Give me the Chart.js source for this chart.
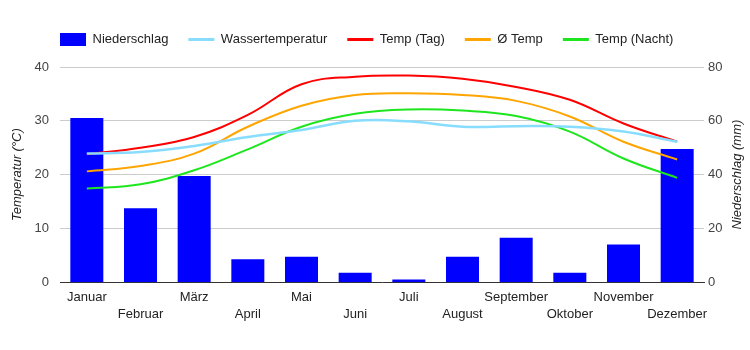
<!DOCTYPE html>
<html>
<head>
<meta charset="utf-8">
<script src="https://cdn.jsdelivr.net/npm/chart.js@4/dist/chart.umd.min.js"></script>
<style>
  html, body { margin: 0; padding: 0; background: #fff; }
  #wrap { width: 750px; height: 350px; }
</style>
</head>
<body>
<div id="wrap"><canvas id="klima"></canvas></div>
<script>
const months = ['Januar', 'Februar', 'März', 'April', 'Mai', 'Juni', 'Juli', 'August', 'September', 'Oktober', 'November', 'Dezember'];
const niederschlag = [61, 27.5, 39.5, 8.5, 9.5, 3.5, 1, 9.5, 16.5, 3.5, 14, 49.5];       // mm
const wassertemp = [23.9, 24.2, 25.3, 27.0, 28.3, 30.0, 29.9, 28.9, 29.0, 28.9, 28.0, 26.1];
const tempTag = [23.8, 25.0, 27.0, 31.1, 36.8, 38.2, 38.4, 37.8, 36.3, 33.9, 29.5, 26.1];
const tempMittel = [20.6, 21.6, 23.9, 28.9, 32.8, 34.8, 35.1, 34.8, 33.7, 30.8, 26.1, 22.8];
const tempNacht = [17.4, 18.2, 20.8, 24.7, 28.9, 31.3, 32.1, 31.9, 30.9, 28.0, 23.0, 19.4];
const tempTicks = [0, 10, 20, 30, 40];
const rainTicks = [0, 20, 40, 60, 80];

const FONT = 'Arial, "Liberation Sans", sans-serif';

// move the legend row to where it sits in the original (left aligned over the plot)
const legendPlace = {
  id: 'legendPlace',
  afterLayout(chart) {
    const lg = chart.legend;
    if (!lg) return;
    lg.left = 40;
    lg.top -= 11;
    lg.bottom -= 11;
  }
};

// axis titles: right one reads bottom-up like the left one
const axisTitles = {
  id: 'axisTitles',
  afterDraw(chart) {
    const ctx = chart.ctx;
    const a = chart.chartArea;
    const cy = (a.top + a.bottom) / 2;
    ctx.save();
    ctx.font = 'italic 13px ' + FONT;
    ctx.fillStyle = '#222';
    ctx.textAlign = 'center';
    ctx.textBaseline = 'middle';
    [[17, 'Temperatur (°C)'], [737, 'Niederschlag (mm)']].forEach(([x, txt]) => {
      ctx.save();
      ctx.translate(x, cy);
      ctx.rotate(-Math.PI / 2);
      ctx.fillText(txt, 0, 0);
      ctx.restore();
    });
    ctx.restore();
  }
};

const line = (label, data, color, width) => ({
  type: 'line',
  label: label,
  data: data,
  yAxisID: 'y',
  borderColor: color,
  backgroundColor: color,
  borderWidth: width,
  pointRadius: 0,
  pointHoverRadius: 0,
  tension: 0.4,
  fill: false,
  order: 0
});

new Chart(document.getElementById('klima'), {
  data: {
    labels: months,
    datasets: [
      {
        type: 'bar',
        label: 'Niederschlag',
        data: niederschlag,
        yAxisID: 'y1',
        backgroundColor: '#0000ff',
        borderWidth: 0,
        categoryPercentage: 1,
        barPercentage: 0.615,
        order: 1
      },
      line('Wassertemperatur', wassertemp, '#88ddff', 2.5),
      line('Temp (Tag)', tempTag, '#ff0000', 2),
      line('Ø Temp', tempMittel, '#ffa500', 2),
      line('Temp (Nacht)', tempNacht, '#1ee61e', 2)
    ]
  },
  options: {
    responsive: true,
    maintainAspectRatio: false,
    animation: false,
    layout: { padding: { left: 0, right: 0, top: 24, bottom: 20 } },
    plugins: {
      tooltip: { enabled: false },
      legend: {
        position: 'top',
        align: 'start',
        labels: {
          font: { family: FONT, size: 13 },
          color: '#222',
          usePointStyle: true,
          pointStyleWidth: 26,
          boxHeight: 13,
          padding: 20,
          sort: (a, b) => a.datasetIndex - b.datasetIndex,
          generateLabels(chart) {
            const items = Chart.defaults.plugins.legend.labels.generateLabels(chart);
            items.forEach(it => {
              if (it.datasetIndex === 0) {
                it.pointStyle = 'rect';
                it.lineWidth = 0;
              } else {
                it.pointStyle = 'line';
                it.lineWidth = 3;
              }
            });
            return items;
          }
        }
      }
    },
    scales: {
      x: {
        grid: { display: false, drawTicks: false },
        border: { display: true, color: '#333', width: 1 },
        ticks: {
          autoSkip: false,
          maxRotation: 0,
          minRotation: 0,
          padding: 7,
          color: '#222',
          font: { family: FONT, size: 13, lineHeight: 1.3 },
          callback: (v, i) => i % 2 === 0 ? [months[i], ''] : ['', months[i]]
        }
      },
      y: {
        position: 'left',
        min: tempTicks[0],
        max: tempTicks[tempTicks.length - 1],
        afterBuildTicks: s => { s.ticks = tempTicks.map(v => ({ value: v })); },
        afterFit: s => { s.width = 60; },
        border: { display: false },
        grid: {
          drawTicks: false,
          color: c => c.tick && c.tick.value === 0 ? 'rgba(0,0,0,0)' : '#cccccc'
        },
        ticks: { padding: 11, color: '#444', font: { family: FONT, size: 13 } }
      },
      y1: {
        position: 'right',
        min: rainTicks[0],
        max: rainTicks[rainTicks.length - 1],
        afterBuildTicks: s => { s.ticks = rainTicks.map(v => ({ value: v })); },
        afterFit: s => { s.width = 46; },
        border: { display: false },
        grid: { display: false, drawTicks: false },
        ticks: { padding: 4, color: '#444', font: { family: FONT, size: 13 } }
      }
    }
  },
  plugins: [legendPlace, axisTitles]
});
</script>
</body>
</html>
